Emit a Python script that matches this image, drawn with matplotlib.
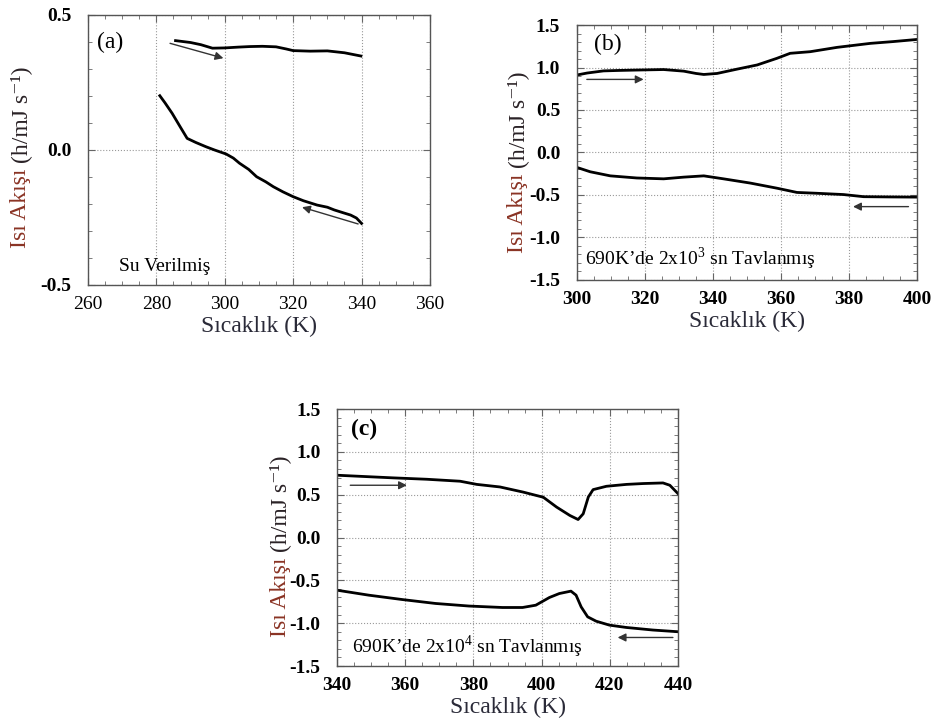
import matplotlib
matplotlib.use('Agg')
import matplotlib.pyplot as plt
from matplotlib.ticker import MultipleLocator

plt.rcParams['font.family'] = ['Liberation Serif', 'DejaVu Serif']
plt.rcParams['mathtext.fontset'] = 'custom'
plt.rcParams['mathtext.rm'] = 'Liberation Serif'

# panel (a) - Su Verilmis
a_up_x = [285.6, 290, 293, 296.4, 300, 304, 307.3, 311, 315, 318, 320, 325, 330, 335, 339.8]
a_up_y = [0.405, 0.398, 0.390, 0.377, 0.378, 0.381, 0.383, 0.384, 0.382, 0.374, 0.368, 0.366, 0.367, 0.360, 0.348]
a_lo_x = [281, 282.5, 284.6, 287, 289, 291.5, 294.5, 297, 300.4, 302.5, 304.3, 307, 309.3, 312, 314.2, 317, 320, 323, 327, 330, 332, 334.5, 336.8, 338.5, 340]
a_lo_y = [0.201, 0.175, 0.136, 0.085, 0.043, 0.028, 0.012, 0.0, -0.015, -0.030, -0.049, -0.072, -0.099, -0.118, -0.136, -0.155, -0.173, -0.188, -0.204, -0.212, -0.222, -0.232, -0.241, -0.252, -0.272]

# panel (b) - 690K'de 2x10^3 sn
b_up_x = [300, 303, 307.8, 312, 317.6, 325.5, 331.4, 335, 337.3, 341.2, 347, 353, 358.8, 362.7, 368.6, 376.5, 386.3, 393, 400]
b_up_y = [0.912, 0.935, 0.960, 0.965, 0.970, 0.976, 0.957, 0.930, 0.918, 0.930, 0.980, 1.030, 1.108, 1.167, 1.186, 1.237, 1.284, 1.305, 1.330]
b_lo_x = [300, 303.9, 309.8, 317.6, 325.5, 331.4, 337.3, 343.1, 351, 358.8, 364.7, 370.6, 378.4, 384.3, 392, 400]
b_lo_y = [-0.176, -0.227, -0.275, -0.300, -0.310, -0.290, -0.275, -0.310, -0.360, -0.420, -0.470, -0.480, -0.495, -0.520, -0.523, -0.525]

# panel (c) - 690K'de 2x10^4 sn
c_up_x = [340, 348, 356.6, 366.3, 376.1, 381, 387.8, 394.6, 400.5, 404.4, 408.3, 410.7, 412.2, 413.7, 415.1, 419, 424.9, 429.8, 435.6, 437.6, 440]
c_up_y = [0.727, 0.712, 0.696, 0.680, 0.657, 0.620, 0.590, 0.530, 0.470, 0.355, 0.257, 0.210, 0.277, 0.473, 0.559, 0.598, 0.620, 0.630, 0.637, 0.610, 0.512]
c_lo_x = [340, 349.3, 359.1, 368.9, 378.7, 388.5, 394.4, 398.3, 402.3, 405.2, 408.6, 410.1, 411.6, 413.5, 416, 419.9, 424.8, 432.6, 440]
c_lo_y = [-0.615, -0.673, -0.724, -0.770, -0.800, -0.817, -0.817, -0.790, -0.700, -0.654, -0.626, -0.673, -0.810, -0.926, -0.977, -1.023, -1.050, -1.080, -1.100]

panels = [
    dict(rect=[0.0936, 0.608, 0.3638, 0.3714], xlim=(260, 360), ylim=(-0.5, 0.5),
         yticks=[-0.5, 0.0, 0.5], tag='(a)', tag_xy=(262.5, 0.40), note='Su Verilmiş', note_xy=(269, -0.43),
         curves=[(a_up_x, a_up_y), (a_lo_x, a_lo_y)],
         arrows=[((284, 0.395), (299.6, 0.34)), ((339, -0.274), (322.6, -0.212))],
         lab_x=-0.196, split=0.452),
    dict(rect=[0.6138, 0.6149, 0.3617, 0.3507], xlim=(300, 400), ylim=(-1.5, 1.5),
         yticks=[-1.5, -1.0, -0.5, 0.0, 0.5, 1.0, 1.5], tag='(b)', tag_xy=(305, 1.27),
         note="690K’de 2x10$^3$ sn Tavlanmış", note_xy=(302.5, -1.25),
         curves=[(b_up_x, b_up_y), (b_lo_x, b_lo_y)],
         arrows=[((302.9, 0.86), (319.6, 0.86)), ((397.5, -0.637), (381.2, -0.637))],
         lab_x=-0.174, split=0.44),
    dict(rect=[0.3585, 0.0839, 0.3628, 0.3535], xlim=(340, 440), ylim=(-1.5, 1.5),
         yticks=[-1.5, -1.0, -0.5, 0.0, 0.5, 1.0, 1.5], tag='(c)', tag_xy=(344, 1.26),
         note="690K’de 2x10$^4$ sn Tavlanmış", note_xy=(344.4, -1.27),
         curves=[(c_up_x, c_up_y), (c_lo_x, c_lo_y)],
         arrows=[((343.9, 0.61), (360.5, 0.61)), ((438.5, -1.167), (422.3, -1.167))],
         lab_x=-0.167, split=0.444),
]

fig = plt.figure(figsize=(9.4, 7.27), dpi=100)

for i, p in enumerate(panels):
    ax = fig.add_axes(p['rect'])
    for xs, ys in p['curves']:
        ax.plot(xs, ys, color='black', lw=2.0)
    for (x0, y0), (x1, y1) in p['arrows']:
        ax.annotate('', xy=(x1, y1), xytext=(x0, y0),
                    arrowprops=dict(arrowstyle='-|>', color='#333333', lw=1.0,
                                    mutation_scale=12, shrinkA=0, shrinkB=0))
    ax.set_xlim(p['xlim'])
    ax.set_ylim(p['ylim'])
    ax.set_xticks(range(p['xlim'][0], p['xlim'][1] + 1, 20))
    ax.set_yticks(p['yticks'])
    ax.set_yticklabels(['%.1f' % v for v in p['yticks']])
    ax.xaxis.set_minor_locator(MultipleLocator(5))
    ax.yaxis.set_minor_locator(MultipleLocator(0.1))
    ax.tick_params(which='both', direction='in', top=True, right=True, color='#666666')
    ax.tick_params(which='major', length=5, width=0.8)
    ax.tick_params(which='minor', length=3, width=0.6)
    ax.tick_params(axis='y', pad=12, labelsize=14)
    ax.tick_params(axis='x', pad=8, labelsize=14)
    for lab in ax.get_yticklabels():
        lab.set_fontweight('bold')
    if i > 0:
        for lab in ax.get_xticklabels():
            lab.set_fontweight('bold')
    ax.grid(True, which='major', linestyle=':', color='#999999', lw=0.8)
    for s in ax.spines.values():
        s.set_color('#555555')
        s.set_linewidth(1.0)

    ax.text(p['tag_xy'][0], p['tag_xy'][1], p['tag'], fontsize=17,
            fontweight='bold' if i == 2 else 'normal', va='center')
    ax.text(p['note_xy'][0], p['note_xy'][1], p['note'], fontsize=14, va='center')

    # two-colour y label
    ax.text(p['lab_x'], p['split'], 'Isı Akışı ', transform=ax.transAxes, rotation=90,
            ha='center', va='top', fontsize=17, color='#8a3324')
    ax.text(p['lab_x'], p['split'], '(h/mJ s⁻¹)', transform=ax.transAxes, rotation=90,
            ha='center', va='bottom', fontsize=17, color='#2a2226')
    ax.set_xlabel('Sıcaklık (K)', fontsize=17, color='#2a2a38', labelpad=2)

fig.savefig('out.png', dpi=100)
